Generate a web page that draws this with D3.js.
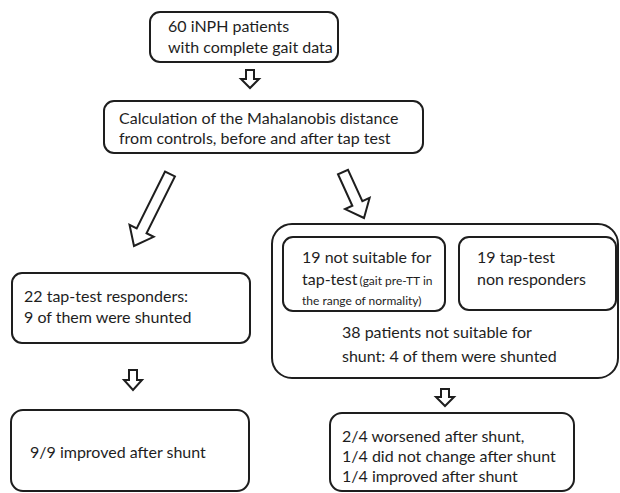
<!DOCTYPE html>
<html>
<head>
<meta charset="utf-8">
<script src="https://cdn.jsdelivr.net/npm/d3@7"></script>
<style>
  html, body { margin: 0; padding: 0; background: #fff; }
  svg { display: block; }
</style>
</head>
<body>
<svg id="chart" width="620" height="493"></svg>
<script>
"use strict";

// Box texts (one entry per line; [text, smallText] for mixed lines)
let startLines = ["60 iNPH patients", "with complete gait data"];
let calcLines = ["Calculation of the Mahalanobis distance", "from controls, before and after tap test"];
let respLines = ["22 tap-test responders:", "9 of them were shunted"];
let respOutcome = ["9/9 improved after shunt"];
let notSuitLines = [["19 not suitable for", ""], ["tap-test", "(gait pre-TT in"], ["", "the range of normality)"]];
let nonRespLines = ["19 tap-test", "non responders"];
let groupLines = ["38 patients not suitable for", "shunt: 4 of them were shunted"];
let groupOutcome = ["2/4 worsened after shunt,", "1/4 did not change after shunt", "1/4 improved after shunt"];

// Layout of the flow (pixel grid)
let layout = {
    start:    { x: 150, y: 12,  w: 188, h: 50,  r: 10, tx: 168, ty: 32,  lh: 21 },
    calc:     { x: 104, y: 101, w: 319, h: 52,  r: 10, tx: 119, ty: 124, lh: 20 },
    resp:     { x: 12,  y: 273, w: 238, h: 70,  r: 10, tx: 24,  ty: 302, lh: 21 },
    respOut:  { x: 11,  y: 410, w: 238, h: 81,  r: 12, tx: 30,  ty: 458, lh: 21 },
    group:    { x: 272, y: 224, w: 346, h: 154, r: 20, tx: 342, ty: 338, lh: 24 },
    notSuit:  { x: 283, y: 237, w: 162, h: 74,  r: 10, tx: 302, ty: 263, lh: 22 },
    nonResp:  { x: 459, y: 237, w: 157, h: 73,  r: 10, tx: 477, ty: 263, lh: 22 },
    groupOut: { x: 330, y: 413, w: 244, h: 78,  r: 12, tx: 342, ty: 442, lh: 20 }
};

// Arrows: from -> to, shaft width, head width, head length
let arrows = [
    { from: [250, 70],  to: [250, 88],  sw: 8,  hw: 18, hl: 9 },
    { from: [170, 174], to: [134, 246], sw: 11, hw: 27, hl: 17 },
    { from: [343, 172], to: [364, 218], sw: 11, hw: 27, hl: 16 },
    { from: [133, 370], to: [133, 390], sw: 8,  hw: 18, hl: 10 },
    { from: [445, 389], to: [445, 406], sw: 8,  hw: 18, hl: 9 }
];

let svg = d3.select("#chart");
let ink = "#1e1e1e";
let font = "Lato, 'Open Sans', sans-serif";

// Boxes
let boxKeys = ["start", "calc", "resp", "respOut", "group", "notSuit", "nonResp", "groupOut"];
svg.selectAll("rect.box")
    .data(boxKeys)
    .enter()
    .append("rect")
    .attr("class", "box")
    .attr("x", function (k) { return layout[k].x; })
    .attr("y", function (k) { return layout[k].y; })
    .attr("width", function (k) { return layout[k].w; })
    .attr("height", function (k) { return layout[k].h; })
    .attr("rx", function (k) { return layout[k].r; })
    .style("fill", "none")
    .style("stroke", ink)
    .style("stroke-width", 2);

// Plain text blocks
function writeLines(key, lines) {
    let L = layout[key];
    svg.append("g")
        .selectAll("text")
        .data(lines)
        .enter()
        .append("text")
        .attr("x", L.tx)
        .attr("y", function (d, i) { return L.ty + i * L.lh; })
        .style("font-family", font)
        .style("font-size", "16px")
        .style("fill", ink)
        .text(function (d) { return d; });
}

writeLines("start", startLines);
writeLines("calc", calcLines);
writeLines("resp", respLines);
writeLines("respOut", respOutcome);
writeLines("nonResp", nonRespLines);
writeLines("group", groupLines);
writeLines("groupOut", groupOutcome);

// Mixed-size text block
let ns = layout.notSuit;
let nsText = svg.append("g")
    .selectAll("text")
    .data(notSuitLines)
    .enter()
    .append("text")
    .attr("x", ns.tx)
    .attr("y", function (d, i) { return ns.ty + i * ns.lh - (i === 2 ? 2 : 0); })
    .style("font-family", font)
    .style("fill", ink);
nsText.append("tspan")
    .style("font-size", "16px")
    .text(function (d) { return d[0]; });
nsText.append("tspan")
    .attr("dx", function (d) { return d[0] ? 2 : 0; })
    .style("font-size", "12px")
    .text(function (d) { return d[1]; });

// Hollow block arrows
function arrowPath(a) {
    let dx = a.to[0] - a.from[0], dy = a.to[1] - a.from[1];
    let len = Math.sqrt(dx * dx + dy * dy);
    let ux = dx / len, uy = dy / len;
    let px = -uy, py = ux;
    let bx = a.to[0] - ux * a.hl, by = a.to[1] - uy * a.hl;
    let s = a.sw / 2, h = a.hw / 2;
    let pts = [
        [a.from[0] + px * s, a.from[1] + py * s],
        [bx + px * s, by + py * s],
        [bx + px * h, by + py * h],
        a.to,
        [bx - px * h, by - py * h],
        [bx - px * s, by - py * s],
        [a.from[0] - px * s, a.from[1] - py * s]
    ];
    return d3.line()(pts) + "Z";
}

svg.selectAll("path.arrow")
    .data(arrows)
    .enter()
    .append("path")
    .attr("class", "arrow")
    .attr("d", arrowPath)
    .style("fill", "#fff")
    .style("stroke", ink)
    .style("stroke-width", 2)
    .style("stroke-linejoin", "miter");
</script>
</body>
</html>
